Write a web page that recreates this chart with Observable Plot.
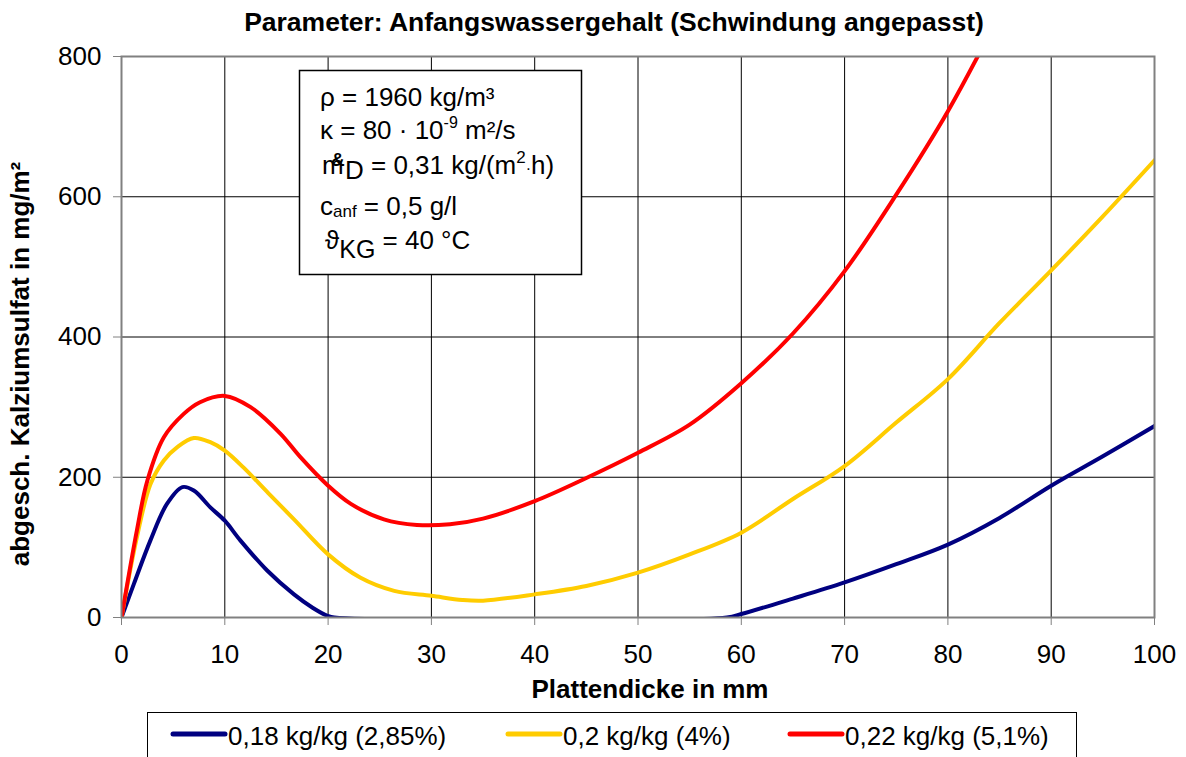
<!DOCTYPE html>
<html><head><meta charset="utf-8">
<script src="https://cdn.jsdelivr.net/npm/d3@7"></script>
<script src="https://cdn.jsdelivr.net/npm/@observablehq/plot@0.6"></script>
<style>
body{margin:0;background:#fff;}
#chart{position:relative;width:1186px;height:757px;overflow:hidden;}
</style></head><body><div id="chart"></div>
<script>
// ---- data ----
const titleText = "Parameter: Anfangswassergehalt (Schwindung angepasst)";
const xLabel = "Plattendicke in mm";
const yLabel = "abgesch. Kalziumsulfat in mg/m²";
const seriesNames = ["0,18 kg/kg (2,85%)", "0,2 kg/kg (4%)", "0,22 kg/kg (5,1%)"];
const seriesColors = ["#000080", "#FFCC00", "#FF0000"];
const xTicks = [0,10,20,30,40,50,60,70,80,90,100];
const yTicks = [0,200,400,600,800];

const x018 = [0,1.2,2.8,4.4,5.9,7,8.6,10,11.5,14.1,16.7,18.5,20,20.6,58.6,60,65,70,75,80,85,90,95,100];
const y018 = [0,48,110,162,186,181,157,138,110,67,33,14,2,0,0,5,27,50,76,104,142,188,230,273];

const x020 = [0,1.5,2.8,4.1,5.4,7,8.6,10,11.8,14.1,16.7,20,23.1,26.4,30,33,35,40,45,50,55,60,65,70,75,80,85,90,95,100];
const y020 = [0,115,190,224,243,256,250,238,214,179,140,90,57,38,31,25,24,33,45,64,90,121,169,216,278,340,420,495,572,652];

const x022 = [0,1.5,2.5,4.1,6,7.6,10,12.5,15.4,17.3,20,22.2,25.4,28.6,31.8,35,40,45,50,55,60,65,70,75,80,85];
const y022 = [0,125,195,257,290,307,316,300,262,229,188,162,140,132,133,141,166,199,235,275,334,405,494,603,722,860];

// annotation lines
const annRho = "ρ = 1960 kg/m³";

// ---- build rows ----
const rows = [];
[[x018,y018],[x020,y020],[x022,y022]].forEach(([xs,ys],i) => {
  xs.forEach((v,j) => rows.push({series: seriesNames[i], x: v, y: ys[j]}));
});

const font = "'Liberation Sans', Arial, sans-serif";
const plot = Plot.plot({
  width: 1186, height: 757,
  marginLeft: 121, marginRight: 32, marginTop: 56, marginBottom: 140,
  style: {fontFamily: font, fontSize: "26px", color: "#000", background: "#fff", overflow: "visible"},
  x: {domain: [0,100]},
  y: {domain: [0,800]},
  color: {domain: seriesNames, range: seriesColors},
  marks: [
    Plot.gridX(xTicks, {stroke: "#000", strokeOpacity: 1, strokeWidth: 1}),
    Plot.gridY(yTicks, {stroke: "#000", strokeOpacity: 1, strokeWidth: 1}),
    Plot.line(rows, {x: "x", y: "y", z: "series", stroke: "series", strokeWidth: 4, curve: "catmull-rom", clip: true}),
    Plot.frame({stroke: "#808080", strokeWidth: 2}),
    Plot.axisX(xTicks, {tickSize: 8, tickPadding: 19, label: null, stroke: "#808080", fill: "#000", fontSize: 26}),
    Plot.axisY(yTicks, {tickSize: 8, tickPadding: 12, label: null, stroke: "#808080", fill: "#000", fontSize: 26})
  ]
});
document.getElementById("chart").appendChild(plot);

const svg = d3.select(plot);
const g = svg.append("g").attr("font-family", font).attr("fill", "#000").attr("text-anchor", "start");

// title
g.append("text").attr("x", 614).attr("y", 31).attr("text-anchor", "middle")
  .attr("font-weight", "bold").attr("font-size", 26.5).text(titleText);
// axis titles
g.append("text").attr("x", 650).attr("y", 698).attr("text-anchor", "middle")
  .attr("font-weight", "bold").attr("font-size", 26).text(xLabel);
g.append("text").attr("transform", "translate(29,364) rotate(-90)").attr("text-anchor", "middle")
  .attr("font-weight", "bold").attr("font-size", 26).text(yLabel);

// annotation box
const ab = g.append("g").attr("font-size", 26).attr("text-anchor", "start");
ab.append("rect").attr("x", 299.5).attr("y", 70.5).attr("width", 282).attr("height", 204)
  .attr("fill", "#fff").attr("stroke", "#000").attr("stroke-width", 1.5);
ab.append("text").attr("x", 320).attr("y", 106).text(annRho);
const t2 = ab.append("text").attr("x", 320).attr("y", 139);
t2.append("tspan").text("κ = 80 · 10");
t2.append("tspan").attr("font-size", 16).attr("dy", -11).text("-9");
t2.append("tspan").attr("dy", 11).text(" m²/s");
const t3 = ab.append("text").attr("x", 322).attr("y", 174);
t3.append("tspan").text("m");
t3.append("tspan").attr("x", 345).attr("dy", 5).text("D");
t3.append("tspan").attr("dy", -5).text(" = 0,31 kg/(m");
t3.append("tspan").attr("font-size", 17).attr("dy", -11).text("2");
t3.append("tspan").attr("dy", 11).attr("font-size", 16).text("·");
t3.append("tspan").text("h)");
ab.append("text").attr("x", 331).attr("y", 166).attr("font-size", 19).attr("font-weight", "bold").text("&");
const t4 = ab.append("text").attr("x", 320).attr("y", 215);
t4.append("tspan").text("c");
t4.append("tspan").attr("font-size", 17).attr("dy", 2).text("anf");
t4.append("tspan").attr("dy", -2).text(" = 0,5 g/l");
const t5 = ab.append("text").attr("x", 325).attr("y", 249);
t5.append("tspan").text("ϑ");
t5.append("tspan").attr("dy", 9).attr("font-size", 25).text("KG");
t5.append("tspan").attr("dy", -9).text(" = 40 °C");

// legend
const lg = g.append("g").attr("font-size", 26).attr("text-anchor", "start");
lg.append("rect").attr("x", 147.5).attr("y", 712.5).attr("width", 929).attr("height", 70)
  .attr("fill", "#fff").attr("stroke", "#000").attr("stroke-width", 1);
const legX = [173, 508, 790];
seriesNames.forEach((name, i) => {
  lg.append("line").attr("x1", legX[i]).attr("x2", legX[i] + 52).attr("y1", 734).attr("y2", 734)
    .attr("stroke", seriesColors[i]).attr("stroke-width", 5).attr("stroke-linecap", "round");
  lg.append("text").attr("x", legX[i] + 55).attr("y", 745).text(name);
});
</script></body></html>
